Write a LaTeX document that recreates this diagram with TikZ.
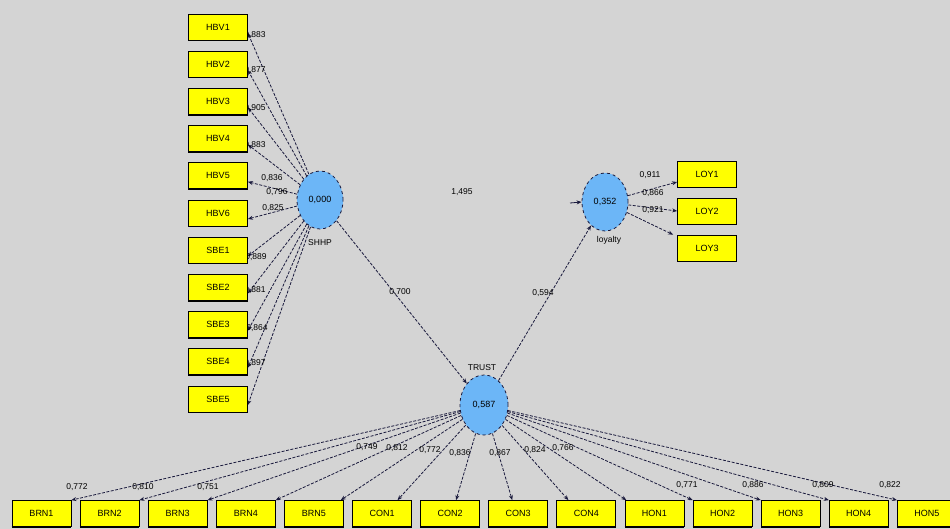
\documentclass[tikz,border=0pt]{standalone}
\usepackage{fontspec}
\setmainfont{Liberation Sans}
\usetikzlibrary{arrows.meta,shapes.geometric,calc}
\pgfdeclarelayer{bg}
\pgfsetlayers{bg,main}
\definecolor{bggray}{RGB}{212,212,212}
\definecolor{latblue}{RGB}{108,182,247}
\definecolor{edgecol}{RGB}{25,25,60}
\definecolor{indyel}{RGB}{255,255,0}
\begin{document}
\begin{tikzpicture}[x=1pt,y=-1pt,
  ind/.style={rectangle, fill=indyel, draw=black, line width=0.7pt, minimum width=59pt, minimum height=26pt, inner sep=0pt, font=\fontsize{9}{10}\selectfont},
  lat/.style={ellipse, fill=latblue, draw=edgecol, dashed, line width=0.8pt, minimum width=46pt, minimum height=58pt, inner sep=0pt, font=\fontsize{9}{10}\selectfont},
  ld/.style={draw=edgecol, line width=0.8pt, dash pattern=on 3pt off 1.5pt, -{Stealth[length=5pt,width=4pt]}},
  val/.style={font=\fontsize{8.5}{9}\selectfont, inner sep=0.5pt, text=black},
  nm/.style={font=\fontsize{8.5}{9}\selectfont, inner sep=0.5pt}
]
\useasboundingbox (0,0) rectangle (950,529);
% latent variables
\node[lat] (sh) at (320,200) {0,000};
\node[lat, minimum width=48pt, minimum height=60pt] (tr) at (484,405) {0,587};
\node[lat] (lo) at (605,202) {0,352};
\node[nm] (shn) at (320,243) {SHHP};
\node[nm] (trn) at (482,368) {TRUST};
\node[nm] (lon) at (609,240) {loyalty};
% left indicators
\foreach \n [count=\i from 0] in {HBV1,HBV2,HBV3,HBV4,HBV5,HBV6,SBE1,SBE2,SBE3,SBE4,SBE5}{
  \node[ind] (L\i) at (218,{27+37.2*\i}) {\n};
  \draw[line width=1.6pt] (L\i.south west) -- (L\i.south east);
}
% bottom indicators
\foreach \n [count=\i from 0] in {BRN1,BRN2,BRN3,BRN4,BRN5,CON1,CON2,CON3,CON4,HON1,HON2,HON3,HON4,HON5}{
  \node[ind] (B\i) at ({41.5+68.1*\i},513.5) {\n};
  \draw[line width=1.6pt] (B\i.south west) -- (B\i.south east);
}
% loyalty indicators
\foreach \n [count=\i from 0] in {LOY1,LOY2,LOY3}{
  \node[ind] (Y\i) at (707,{174+37*\i}) {\n};
  \draw[line width=1.6pt] (Y\i.south west) -- (Y\i.south east);
}
\coordinate (res) at (570,203);
\begin{pgfonlayer}{bg}
\fill[bggray] (0,0) rectangle (950,529);
% left edges
\foreach \i in {0,...,10}{
  \draw[ld] (sh) -- ([yshift=-6pt]L\i.east);
}
% bottom edges
\foreach \i/\f in {0/1,1/1,2/1,3/1,4/0.95,5/0.76,6/0.6,7/0.4,8/0.2,9/0.03,10/0,11/0,12/0,13/0}{
  \draw[ld] (tr) -- ($(B\i.north west)!\f!(B\i.north east)$);
}
% loyalty edges
\draw[ld] (lo) -- ([yshift=-8pt]Y0.west);
\draw[ld] (lo) -- (Y1.west);
\draw[ld] (lo) -- ([xshift=-4pt]Y2.north west);
% structural paths
\draw[ld] (sh) -- (tr);
\draw[ld] (tr) -- (lo);
\draw[ld, solid] (res) -- (lo.west);
% left loading labels
\foreach \v/\x/\y in {{0,883}/255/35, {0,877}/255/70, {0,905}/255/108, {0,883}/255/145, {0,836}/272/178, {0,796}/277/192, {0,825}/273/208, {0,889}/256/257, {0,881}/255/290, {0,864}/257/328, {0,897}/255/363}{
  \node[val] at (\x,\y) {\v};
}
% bottom loading labels
\foreach \v/\x/\y in {{0,772}/77/487, {0,810}/143/487, {0,751}/208/487, {0,749}/367/447, {0,812}/397/448, {0,772}/430/450, {0,836}/460/453, {0,867}/500/453, {0,824}/535/450, {0,766}/563/448, {0,771}/687/485, {0,886}/753/485, {0,809}/823/485, {0,822}/890/485}{
  \node[val] at (\x,\y) {\v};
}
% loyalty loading labels
\node[val] at (650,175) {0,911};
\node[val] at (653,193) {0,866};
\node[val] at (653,210) {0,921};
% path labels
\node[val] at (400,292) {0,700};
\node[val] at (543,293) {0,594};
\node[val] at (462,192) {1,495};
\end{pgfonlayer}
\end{tikzpicture}
\end{document}
